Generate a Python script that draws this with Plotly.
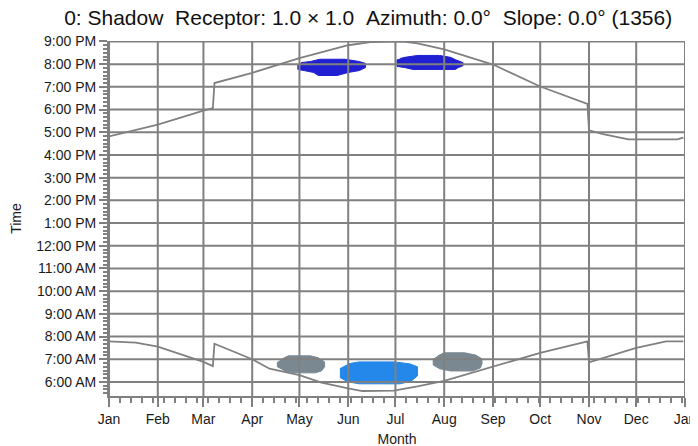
import plotly.graph_objects as go

# ---------------- data ----------------
month_ticks = ["2020-01-01", "2020-02-01", "2020-03-01", "2020-04-01", "2020-05-01", "2020-06-01",
               "2020-07-01", "2020-08-01", "2020-09-01", "2020-10-01", "2020-11-01", "2020-12-01",
               "2021-01-01"]
month_labels = ["Jan", "Feb", "Mar", "Apr", "May", "Jun", "Jul", "Aug", "Sep", "Oct", "Nov", "Dec", "Jan"]

hour_ticks = [6, 7, 8, 9, 10, 11, 12, 13, 14, 15, 16, 17, 18, 19, 20, 21]
hour_labels = ["6:00 AM", "7:00 AM", "8:00 AM", "9:00 AM", "10:00 AM", "11:00 AM", "12:00 PM",
               "1:00 PM", "2:00 PM", "3:00 PM", "4:00 PM", "5:00 PM", "6:00 PM", "7:00 PM",
               "8:00 PM", "9:00 PM"]

sunrise_dates = ["2020-01-01", "2020-01-18", "2020-02-01", "2020-03-01", "2020-03-07", "2020-03-08",
                 "2020-04-01", "2020-04-12", "2020-05-01", "2020-05-15", "2020-06-01", "2020-06-10",
                 "2020-06-30", "2020-07-15", "2020-08-01", "2020-08-15", "2020-09-01", "2020-10-01",
                 "2020-10-31", "2020-11-01", "2020-12-01", "2020-12-20", "2020-12-31"]
sunrise_times = ["7:47", "7:44", "7:33", "6:53", "6:42", "7:41",
                 "7:00", "6:35", "6:18", "5:58", "5:43", "5:36",
                 "5:37", "5:48", "6:03", "6:20", "6:42", "7:17",
                 "7:47", "6:52", "7:30", "7:47", "7:47"]

sunset_dates = ["2020-01-01", "2020-01-15", "2020-02-01", "2020-03-01", "2020-03-07", "2020-03-08",
                "2020-04-01", "2020-05-01", "2020-06-01", "2020-06-15", "2020-07-05", "2020-07-15",
                "2020-08-01", "2020-09-01", "2020-10-01", "2020-10-31", "2020-11-01", "2020-11-10",
                "2020-11-26", "2020-12-27", "2020-12-31"]
sunset_times = ["16:49", "17:03", "17:20", "17:57", "18:04", "19:10",
                "19:37", "20:16", "20:50", "20:58", "21:00", "20:55",
                "20:39", "19:59", "19:01", "18:15", "17:05", "16:55",
                "16:41", "16:41", "16:46"]

# shadow areas (outline of each patch)
evening_spring_dates = ["2020-04-30", "2020-04-30", "2020-05-04", "2020-05-10", "2020-05-13", "2020-05-25",
                        "2020-06-01", "2020-06-08", "2020-06-12", "2020-06-12", "2020-06-08", "2020-05-30",
                        "2020-05-14", "2020-05-08", "2020-05-02"]
evening_spring_times = ["19:59", "19:46", "19:43", "19:38", "19:30", "19:30",
                        "19:38", "19:43", "19:51", "20:02", "20:07", "20:13",
                        "20:13", "20:07", "20:04"]

evening_summer_dates = ["2020-07-02", "2020-07-02", "2020-07-07", "2020-07-12", "2020-08-08", "2020-08-10",
                        "2020-08-13", "2020-08-13", "2020-08-08", "2020-08-05", "2020-07-29", "2020-07-15",
                        "2020-07-07", "2020-07-04"]
evening_summer_times = ["20:12", "19:54", "19:51", "19:46", "19:46", "19:51",
                        "19:56", "20:04", "20:12", "20:18", "20:23", "20:23",
                        "20:18", "20:15"]

morning_spring_dates = ["2020-04-17", "2020-04-17", "2020-04-22", "2020-04-28", "2020-05-11", "2020-05-15",
                        "2020-05-17", "2020-05-17", "2020-05-13", "2020-05-08", "2020-04-24", "2020-04-20"]
morning_spring_times = ["6:53", "6:40", "6:29", "6:24", "6:24", "6:29",
                        "6:40", "6:53", "7:04", "7:09", "7:09", "7:01"]

morning_summer_dates = ["2020-05-27", "2020-05-27", "2020-06-01", "2020-06-08", "2020-07-04", "2020-07-11",
                        "2020-07-15", "2020-07-15", "2020-07-10", "2020-06-30", "2020-06-08", "2020-06-01"]
morning_summer_times = ["6:37", "6:11", "6:00", "5:55", "5:55", "6:02",
                        "6:16", "6:40", "6:48", "6:53", "6:53", "6:48"]

morning_late_dates = ["2020-07-25", "2020-07-25", "2020-07-29", "2020-08-05", "2020-08-19", "2020-08-24",
                      "2020-08-25", "2020-08-25", "2020-08-21", "2020-08-14", "2020-08-01", "2020-07-28"]
morning_late_times = ["7:01", "6:45", "6:35", "6:29", "6:29", "6:37",
                      "6:48", "7:01", "7:11", "7:17", "7:17", "7:09"]


def to_hours(times):
    out = []
    for t in times:
        hh, mm = t.split(":")
        out.append(int(hh) + int(mm) / 60.0)
    return out


GRID = "#808080"
FONT = "Liberation Sans, Arial, sans-serif"

fig = go.Figure()

patches = [
    (evening_spring_dates, evening_spring_times, "#2020D2"),
    (evening_summer_dates, evening_summer_times, "#2020D2"),
    (morning_spring_dates, morning_spring_times, "#7A8892"),
    (morning_summer_dates, morning_summer_times, "#2487EA"),
    (morning_late_dates, morning_late_times, "#7A8892"),
]
for d, t, c in patches:
    fig.add_trace(go.Scatter(x=d, y=to_hours(t), mode="lines", fill="toself",
                             fillcolor=c, line=dict(color=c, width=1),
                             hoverinfo="skip", showlegend=False))

fig.add_trace(go.Scatter(x=sunrise_dates, y=to_hours(sunrise_times), mode="lines",
                         line=dict(color=GRID, width=1.8), showlegend=False))
fig.add_trace(go.Scatter(x=sunset_dates, y=to_hours(sunset_times), mode="lines",
                         line=dict(color=GRID, width=1.8), showlegend=False))

# grid drawn above the shadow patches
for m in month_ticks:
    fig.add_shape(type="line", xref="x", yref="y domain", x0=m, x1=m, y0=0, y1=1,
                  line=dict(color=GRID, width=2), layer="above")
for h in hour_ticks:
    fig.add_shape(type="line", xref="x domain", yref="y", x0=0, x1=1, y0=h, y1=h,
                  line=dict(color=GRID, width=2), layer="above")

# the page body adds an 8px offset; margins compensate for it
fig.update_layout(
    width=698, height=446,
    margin=dict(l=101, r=21, t=33, b=58),
    paper_bgcolor="white", plot_bgcolor="white",
    font=dict(family=FONT, size=14, color="#1a1a1a"),
    title=dict(text="0: Shadow \u00a0Receptor: 1.0 × 1.0 \u00a0Azimuth: 0.0° \u00a0Slope: 0.0° (1356)",
               x=0.516, xref="container", xanchor="center",
               y=0.995, yref="container", yanchor="top", pad=dict(t=0, b=0),
               font=dict(family=FONT, size=21, color="#111111"),
               automargin=False),
    showlegend=False,
)
fig.update_xaxes(
    type="date", range=["2020-01-01", "2021-01-01"], automargin=False,
    tickvals=month_ticks, ticktext=month_labels, ticklabeloverflow="allow",
    showgrid=False, zeroline=False,
    showline=True, linecolor=GRID, linewidth=2,
    ticks="outside", ticklen=9, tickwidth=1.5, tickcolor=GRID,
    minor=dict(dtick=7 * 86400000, tick0="2020-01-01", ticks="outside", ticklen=5,
               tickwidth=1.5, tickcolor=GRID, showgrid=False),
    tickfont=dict(size=14),
    title=dict(text="Month", font=dict(size=14), standoff=8),
)
fig.update_yaxes(
    range=[5.38, 21.02], automargin=False,
    tickvals=hour_ticks, ticktext=hour_labels,
    showgrid=False, zeroline=False,
    showline=True, linecolor=GRID, linewidth=2,
    ticks="outside", ticklen=8, tickwidth=1.5, tickcolor=GRID,
    minor=dict(dtick=1 / 6, tick0=0, ticks="outside", ticklen=4,
               tickwidth=1.5, tickcolor=GRID, showgrid=False),
    tickfont=dict(size=14),
    title=dict(text="Time", font=dict(size=14), standoff=12),
)

fig.write_html("out.html")
